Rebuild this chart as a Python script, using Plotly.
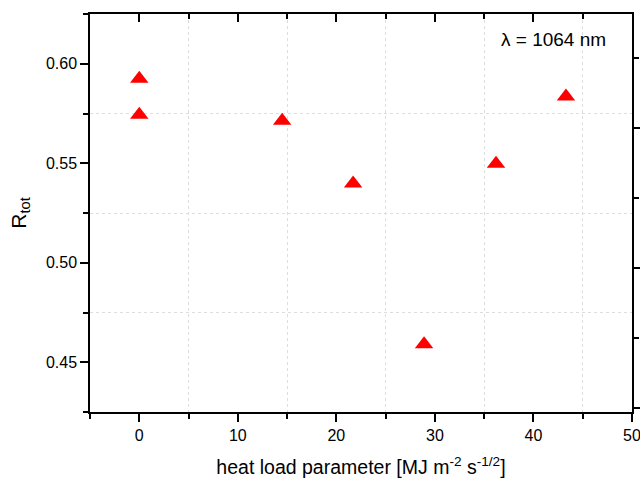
import plotly.graph_objects as go

# Data
heat_load = [0.0, 0.0, 14.5, 21.7, 28.9, 36.2, 43.3]
r_tot = [0.5925, 0.5744, 0.5714, 0.5398, 0.459, 0.5498, 0.5835]

x_range = [-5, 50]
y_range = [0.425, 0.625]
y2_range = [-0.057, 5.629]

FONT = "Liberation Sans, Arial, sans-serif"

fig = go.Figure()
fig.add_trace(go.Scatter(
    x=heat_load, y=r_tot, mode="markers",
    marker=dict(symbol="triangle-up", size=16, color="#ff0000", line=dict(width=0)),
    showlegend=False,
))
# invisible traces to activate secondary axes
fig.add_trace(go.Scatter(x=[None], y=[None], xaxis="x2", yaxis="y", showlegend=False))
fig.add_trace(go.Scatter(x=[None], y=[None], xaxis="x", yaxis="y2", showlegend=False))

fig.update_layout(
    width=640, height=478,
    margin=dict(l=90, r=8, t=14, b=66, autoexpand=False),
    paper_bgcolor="white", plot_bgcolor="white",
    font=dict(family=FONT, color="black", size=15),
    xaxis=dict(
        range=x_range, dtick=10, tick0=0, automargin=False, ticklabeloverflow="allow",
        showgrid=False, zeroline=False,
        showline=True, linecolor="black", linewidth=1.5,
        ticks="outside", ticklen=8, tickwidth=1.5, tickcolor="black",
        tickfont=dict(size=16),
        minor=dict(dtick=5, tick0=0, ticks="outside", ticklen=5, tickwidth=1.5, tickcolor="black",
                   showgrid=True, gridcolor="#dddddd", griddash="dot", gridwidth=1),
        title=dict(text="heat load parameter [MJ m<sup>-2</sup> s<sup>-1/2</sup>]",
                   font=dict(size=19.5), standoff=22),
    ),
    xaxis2=dict(
        range=x_range, dtick=10, tick0=0, overlaying="x", side="top", automargin=False,
        showgrid=False, zeroline=False, showticklabels=False,
        showline=True, linecolor="black", linewidth=1.5,
        ticks="inside", ticklen=8, tickwidth=1.5, tickcolor="black",
        minor=dict(dtick=5, tick0=0, ticks="inside", ticklen=5, tickwidth=1.5, tickcolor="black"),
    ),
    yaxis=dict(
        range=y_range, dtick=0.05, tick0=0.45, tickformat=".2f", automargin=False,
        showgrid=False, zeroline=False,
        showline=True, linecolor="black", linewidth=1.5,
        ticks="outside", ticklen=8, tickwidth=1.5, tickcolor="black",
        tickfont=dict(size=16),
        minor=dict(dtick=0.025, tick0=0.45, ticks="outside", ticklen=5, tickwidth=1.5, tickcolor="black",
                   showgrid=True, gridcolor="#dddddd", griddash="dot", gridwidth=1),
        title=dict(text="R<sub>tot</sub>", font=dict(size=21), standoff=14),
    ),
    yaxis2=dict(
        range=y2_range, dtick=2, tick0=0, overlaying="y", side="right", automargin=False,
        showgrid=False, zeroline=False, showticklabels=False,
        showline=True, linecolor="black", linewidth=1.5,
        ticks="outside", ticklen=8, tickwidth=1.5, tickcolor="black",
        minor=dict(dtick=1, tick0=0, ticks="outside", ticklen=5, tickwidth=1.5, tickcolor="black"),
    ),
    annotations=[dict(
        text="λ = 1064 nm", xref="paper", yref="paper", x=0.955, y=0.935,
        xanchor="right", yanchor="middle", showarrow=False, font=dict(size=19),
    )],
)

fig.write_html("out.html")
